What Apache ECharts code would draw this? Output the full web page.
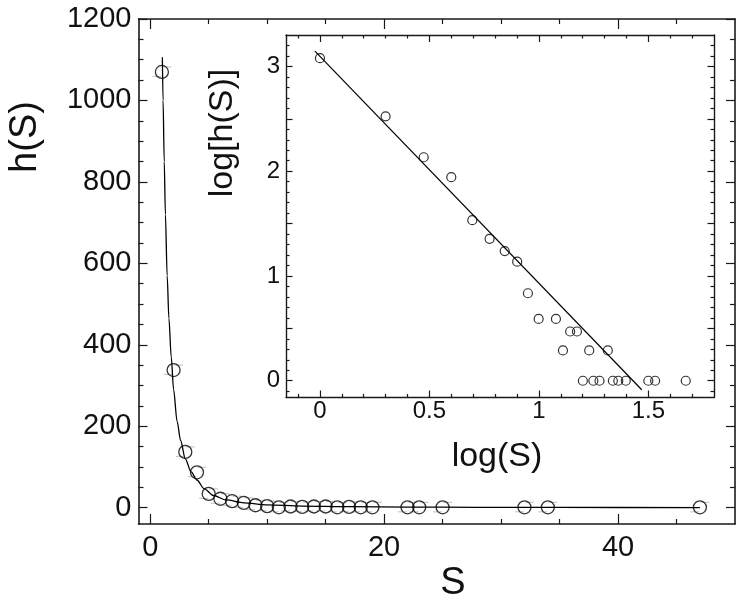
<!DOCTYPE html>
<html>
<head>
<meta charset="utf-8">
<title>h(S) distribution</title>
<script src="https://cdn.jsdelivr.net/npm/echarts@6/dist/echarts.min.js"></script>
<style>
    html, body { margin: 0; padding: 0; background: #fff; }
    #chart { width: 743px; height: 601px; }
</style>
</head>
<body>
<div id="chart"></div>
<script>
// ============================================
// Data
// ============================================

// main panel: h(S) against S
const mainS = [1, 2, 3, 4, 5, 6, 7, 8, 9, 10, 11, 12, 13, 14, 15, 16, 17, 18, 19, 22, 23, 25, 32, 34, 47];
const mainH = [1070, 338, 137, 87, 34, 22, 16, 12, 6, 4, 1, 3, 2, 3, 3, 1, 2, 1, 1, 1, 1, 1, 1, 1, 1];

// fitted curve
const fitS = [1.04, 1.1, 1.2, 1.3, 1.45, 1.6, 1.8, 2.0, 2.3, 2.6, 3.0, 3.5, 4.0, 4.6, 5.4, 6.5, 8, 10, 13, 17, 22, 28, 35, 47];
const fitH = [1106, 1000, 850, 720, 570, 465, 370, 290, 212, 165, 120, 88, 68, 47, 30, 19, 12, 7, 4, 2.5, 1.5, 1, 0.8, 0];

// inset: log[h(S)] against log(S)
const logS = [0, 0.3, 0.474, 0.6, 0.696, 0.775, 0.844, 0.901, 0.95, 0.999, 1.078, 1.11, 1.143, 1.174,
              1.201, 1.23, 1.249, 1.277, 1.315, 1.338, 1.363, 1.397, 1.5, 1.531, 1.671];
const logH = [3.079, 2.524, 2.133, 1.943, 1.533, 1.355, 1.238, 1.136, 0.835, 0.59, 0.59, 0.289, 0.47, 0.47,
              0, 0.289, 0, 0, 0.289, 0, 0, 0, 0, 0, 0];

// straight fit in the inset (end points)
const fitLogS = [-0.023, 1.47];
const fitLogH = [3.146, -0.086];

// tick values
const mainXMajor = [0, 20, 40];
const mainXMinor = [5, 10, 15, 25, 30, 35, 45];
const mainYMajor = [0, 200, 400, 600, 800, 1000, 1200];
const mainYMinor = [50, 100, 150, 250, 300, 350, 450, 500, 550, 650, 700, 750, 850, 900, 950, 1050, 1100, 1150];
const insetXMajor = [0, 0.5, 1, 1.5];
const insetXMinor = [-0.1, 0.1, 0.2, 0.3, 0.4, 0.6, 0.7, 0.8, 0.9, 1.1, 1.2, 1.3, 1.4, 1.6, 1.7];
const insetYLabels = [0, 1, 2, 3];
const insetYMajor = [0, 0.5, 1, 1.5, 2, 2.5, 3];
const insetYMinor = [-0.1, 0.1, 0.2, 0.3, 0.4, 0.6, 0.7, 0.8, 0.9, 1.1, 1.2, 1.3, 1.4, 1.6, 1.7, 1.8, 1.9,
                     2.1, 2.2, 2.3, 2.4, 2.6, 2.7, 2.8, 2.9, 3.1, 3.2];

// ============================================
// Helpers
// ============================================
const FONT = '"Liberation Sans", Arial, Helvetica, sans-serif';
const INK = '#1a1a1a';

const zip = (xs, ys) => xs.map((x, i) => [x, ys[i]]);

// one axis = one side of a frame; minor ticks come from a second, lineless axis
function makeAxis(gridIndex, position, min, max, ticks, tickLen, lineWidth, labels, labelSize, margin) {
    return {
        type: 'value',
        gridIndex: gridIndex,
        position: position,
        min: min,
        max: max,
        axisLine: {
            show: lineWidth > 0,
            onZero: false,
            lineStyle: { color: INK, width: lineWidth || 1 }
        },
        axisTick: {
            show: true,
            inside: true,
            length: tickLen,
            customValues: ticks,
            lineStyle: { color: INK, width: 1.2 }
        },
        axisLabel: labels ? {
            show: true,
            customValues: labels,
            formatter: (v) => String(v),   // no thousands separator
            fontFamily: FONT,
            fontSize: labelSize,
            color: '#111',
            margin: margin
        } : { show: false },
        splitLine: { show: false },
        axisPointer: { show: false }
    };
}

function axisTitle(text, x, y, size, rotate) {
    return {
        type: 'text',
        x: x,
        y: y,
        rotation: rotate ? Math.PI / 2 : 0,
        silent: true,
        style: {
            text: text,
            fill: '#111',
            font: size + 'px ' + FONT,
            textAlign: 'center',
            textVerticalAlign: 'middle'
        }
    };
}

// ============================================
// Chart
// ============================================
function init() {
    const chart = echarts.init(document.getElementById('chart'), null, { renderer: 'canvas' });

    const MX = [-1, 50], MY = [-40, 1200];
    const IX = [-0.155, 1.8], IY = [-0.16, 3.3];

    const option = {
        animation: false,
        backgroundColor: '#fff',
        grid: [
            { left: 138.5, top: 19, right: 8, bottom: 77 },
            { left: 286, top: 35, right: 29, bottom: 203.5 }
        ],
        xAxis: [
            makeAxis(0, 'bottom', MX[0], MX[1], mainXMajor, 10, 1.6, mainXMajor, 29, 9),
            makeAxis(0, 'bottom', MX[0], MX[1], mainXMinor, 5, 0),
            makeAxis(0, 'top', MX[0], MX[1], mainXMajor, 10, 1.6),
            makeAxis(0, 'top', MX[0], MX[1], mainXMinor, 5, 0),
            makeAxis(1, 'bottom', IX[0], IX[1], insetXMajor, 7, 1.4, insetXMajor, 24, 2),
            makeAxis(1, 'bottom', IX[0], IX[1], insetXMinor, 3.5, 0),
            makeAxis(1, 'top', IX[0], IX[1], insetXMajor, 7, 1.4),
            makeAxis(1, 'top', IX[0], IX[1], insetXMinor, 3.5, 0)
        ],
        yAxis: [
            makeAxis(0, 'left', MY[0], MY[1], mainYMajor, 9, 1.6, mainYMajor, 29, 7),
            makeAxis(0, 'left', MY[0], MY[1], mainYMinor, 5, 0),
            makeAxis(0, 'right', MY[0], MY[1], mainYMajor, 9, 1.6),
            makeAxis(0, 'right', MY[0], MY[1], mainYMinor, 5, 0),
            makeAxis(1, 'left', IY[0], IY[1], insetYMajor, 6.5, 1.4, insetYLabels, 24, 6),
            makeAxis(1, 'left', IY[0], IY[1], insetYMinor, 3.5, 0),
            makeAxis(1, 'right', IY[0], IY[1], insetYMajor, 6.5, 1.4),
            makeAxis(1, 'right', IY[0], IY[1], insetYMinor, 3.5, 0)
        ],
        series: [
            // faint grey bars beside each circle
            {
                type: 'scatter', xAxisIndex: 0, yAxisIndex: 0, silent: true,
                data: zip(mainS, mainH),
                symbol: 'rect', symbolSize: [9, 1], symbolOffset: [-5, 4.5],
                itemStyle: { color: '#b0b0b0' }, z: 1
            },
            {
                type: 'scatter', xAxisIndex: 0, yAxisIndex: 0, silent: true,
                data: zip(mainS, mainH),
                symbol: 'rect', symbolSize: [9, 1], symbolOffset: [5, -5],
                itemStyle: { color: '#b0b0b0' }, z: 1
            },
            {
                type: 'line', xAxisIndex: 0, yAxisIndex: 0, silent: true,
                data: zip(fitS, fitH),
                showSymbol: false, smooth: 0.3, smoothMonotone: 'x',
                lineStyle: { color: '#000', width: 1.3 }, z: 2
            },
            {
                type: 'scatter', xAxisIndex: 0, yAxisIndex: 0, silent: true,
                data: zip(mainS, mainH),
                symbol: 'circle', symbolSize: 13,
                itemStyle: { color: 'rgba(0,0,0,0)', borderColor: '#000', borderWidth: 1.3 }, z: 3
            },
            {
                type: 'line', xAxisIndex: 4, yAxisIndex: 4, silent: true,
                data: zip(fitLogS, fitLogH),
                showSymbol: false,
                lineStyle: { color: '#000', width: 1.2 }, z: 2
            },
            {
                type: 'scatter', xAxisIndex: 4, yAxisIndex: 4, silent: true,
                data: zip(logS, logH),
                symbol: 'circle', symbolSize: 9,
                itemStyle: { color: 'rgba(0,0,0,0)', borderColor: '#000', borderWidth: 1.2 }, z: 3
            }
        ],
        graphic: [
            axisTitle('h(S)', 26, 137, 38, true),
            axisTitle('S', 453, 584, 38, false),
            axisTitle('log[h(S)]', 223, 133, 34, true),
            axisTitle('log(S)', 497, 457, 34, false)
        ]
    };

    chart.setOption(option);
}

document.addEventListener('DOMContentLoaded', init);
</script>
</body>
</html>
